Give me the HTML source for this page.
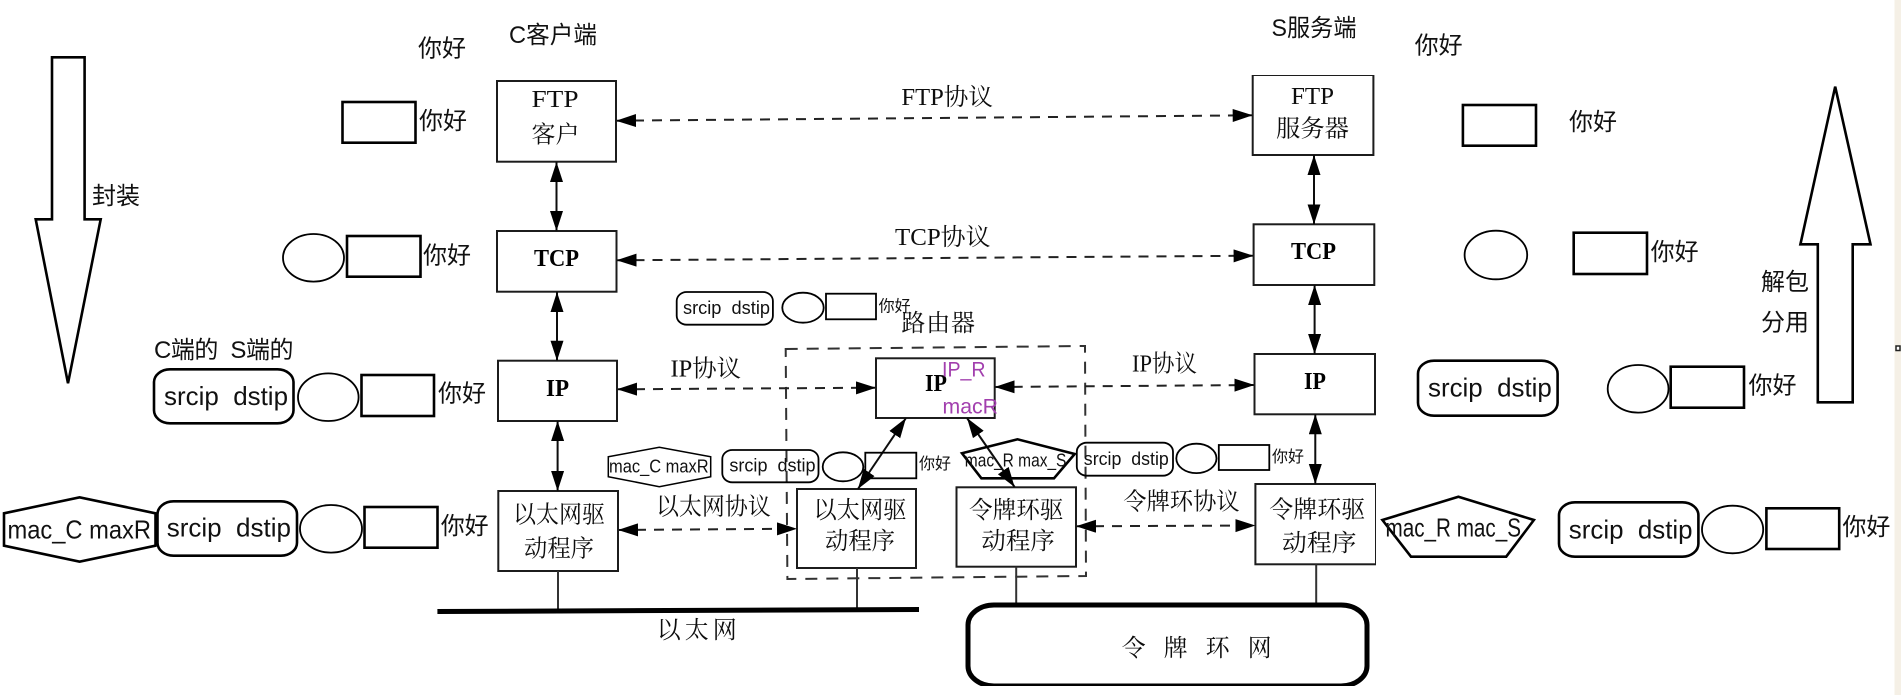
<!DOCTYPE html>
<html lang="zh">
<head>
<meta charset="utf-8">
<title>协议封装与分用</title>
<style>
html,body{margin:0;padding:0;background:#fff;width:1901px;height:695px;overflow:hidden}
svg{display:block}
.s{font-family:"Liberation Serif","Noto Serif CJK SC",serif;fill:#111;font-size:24px}
.b{font-family:"Liberation Serif","Noto Serif CJK SC",serif;fill:#000;font-size:24px;font-weight:700}
.c{font-family:"Liberation Sans","Noto Sans CJK SC",sans-serif;fill:#111;font-size:24px}
.l{font-family:"Liberation Sans","Noto Sans CJK SC",sans-serif;fill:#111;font-size:26px}
.m{font-family:"Liberation Sans","Noto Sans CJK SC",sans-serif;fill:#111;font-size:18px}
.p{font-family:"Liberation Sans",sans-serif;fill:#a23fae;font-size:21px}
.box{fill:none;stroke:#1c1c1c;stroke-width:2}
.dbl{fill:none;stroke:#111;stroke-width:2;marker-start:url(#a);marker-end:url(#a)}
.dash{fill:none;stroke:#222;stroke-width:2;stroke-dasharray:10 8;marker-start:url(#a);marker-end:url(#a)}
.o{fill:none;stroke:#000;stroke-width:2.6}
.t{fill:none;stroke:#000;stroke-width:1.8}
</style>
</head>
<body>
<svg xmlns="http://www.w3.org/2000/svg" width="1901" height="695" viewBox="0 0 1901 695">
<defs>
<marker id="a" markerUnits="userSpaceOnUse" markerWidth="22" markerHeight="14" refX="20" refY="6.5" orient="auto-start-reverse">
<path d="M0 0L20 6.5L0 13Z" fill="#000"/>
</marker>
<filter id="soft" x="0" y="0" width="100%" height="100%"><feGaussianBlur stdDeviation="0.3"/></filter>
</defs>

<rect x="1894.5" y="0" width="6.5" height="695" fill="#f5f0e6"/>
<rect x="1896" y="346" width="4" height="4.5" fill="#fff" stroke="#222" stroke-width="1.5"/>

<g filter="url(#soft)">
<!-- boxes -->
<rect class="box" x="497" y="81" width="119" height="80.7"/>
<rect class="box" x="497" y="231" width="119.5" height="60.7"/>
<rect class="box" x="498" y="360.7" width="119" height="60.3"/>
<rect class="box" x="498.3" y="491" width="119.7" height="80"/>
<rect class="box" x="1252.7" y="75" width="120.7" height="80"/>
<rect class="box" x="1253.6" y="224.3" width="120.7" height="60.7"/>
<rect class="box" x="1254.5" y="354" width="120.5" height="60.3"/>
<rect class="box" x="1255.4" y="484" width="120.6" height="80.3"/>
<rect class="box" x="876" y="358.3" width="118.7" height="59.7"/>
<rect class="box" x="797" y="489" width="119" height="79"/>
<rect class="box" x="956.5" y="487.3" width="119.5" height="79.4"/>
<polygon points="785.7,349 1085,346 1086,576 787.4,579" fill="none" stroke="#333" stroke-width="2" stroke-dasharray="12 9"/>

<!-- vertical links -->
<line class="dbl" x1="556.5" y1="162" x2="556.5" y2="231"/>
<line class="dbl" x1="557" y1="292" x2="557" y2="360.7"/>
<line class="dbl" x1="557.6" y1="421" x2="557.6" y2="491"/>
<line class="dbl" x1="1314" y1="155" x2="1314" y2="224.3"/>
<line class="dbl" x1="1314.6" y1="285" x2="1314.6" y2="354"/>
<line class="dbl" x1="1315.3" y1="414.3" x2="1315.3" y2="484"/>
<line class="dbl" x1="857.9" y1="489" x2="906" y2="418"/>
<line class="dbl" x1="1014.6" y1="487" x2="967" y2="418"/>

<!-- dashed protocol links -->
<line class="dash" x1="616" y1="120.7" x2="1252.7" y2="115.3"/>
<line class="dash" x1="616.5" y1="260.3" x2="1253.6" y2="255.7"/>
<line class="dash" x1="617" y1="389.3" x2="876" y2="387.7"/>
<line class="dash" x1="994.7" y1="387" x2="1254.5" y2="385"/>
<line class="dash" x1="618" y1="530" x2="797" y2="528.7"/>
<line class="dash" x1="1076" y1="526.3" x2="1255.4" y2="525.5"/>

<!-- networks -->
<line x1="558" y1="571" x2="558" y2="610" stroke="#333" stroke-width="2"/>
<line x1="857" y1="568" x2="857" y2="610" stroke="#333" stroke-width="2"/>
<line x1="1016.2" y1="566.7" x2="1016.2" y2="605" stroke="#333" stroke-width="2"/>
<line x1="1316.2" y1="564.3" x2="1316.2" y2="605" stroke="#333" stroke-width="2"/>
<line x1="437.4" y1="611.5" x2="919" y2="609.5" stroke="#000" stroke-width="5"/>
<rect x="968" y="605" width="399" height="81" rx="26" ry="20" fill="none" stroke="#000" stroke-width="5"/>

<!-- scan labels -->
<text class="s" x="531.5" y="107" textLength="47" lengthAdjust="spacingAndGlyphs" font-size="26">FTP</text>
<text class="s" x="531.5" y="142.5">客户</text>
<text class="b" x="534" y="266" textLength="45" lengthAdjust="spacingAndGlyphs">TCP</text>
<text class="b" x="546" y="396" textLength="23" lengthAdjust="spacingAndGlyphs">IP</text>
<text class="s" x="513" y="522.5" textLength="92" lengthAdjust="spacingAndGlyphs">以太网驱</text>
<text class="s" x="524" y="556.5" textLength="70" lengthAdjust="spacingAndGlyphs">动程序</text>

<text class="s" x="1291" y="104" textLength="43" lengthAdjust="spacingAndGlyphs">FTP</text>
<text class="s" x="1276" y="136.5" textLength="73" lengthAdjust="spacingAndGlyphs">服务器</text>
<text class="b" x="1291" y="259" textLength="45" lengthAdjust="spacingAndGlyphs">TCP</text>
<text class="b" x="1304" y="389" textLength="22" lengthAdjust="spacingAndGlyphs">IP</text>
<text class="s" x="1269.3" y="517.5" textLength="96" lengthAdjust="spacingAndGlyphs">令牌环驱</text>
<text class="s" x="1282" y="551" textLength="74.5" lengthAdjust="spacingAndGlyphs">动程序</text>

<text class="b" x="925" y="391" textLength="22" lengthAdjust="spacingAndGlyphs">IP</text>
<text class="s" x="813.5" y="518" textLength="93" lengthAdjust="spacingAndGlyphs">以太网驱</text>
<text class="s" x="825" y="549" textLength="70" lengthAdjust="spacingAndGlyphs">动程序</text>
<text class="s" x="969" y="518" textLength="94.5" lengthAdjust="spacingAndGlyphs">令牌环驱</text>
<text class="s" x="981.4" y="549" textLength="73.4" lengthAdjust="spacingAndGlyphs">动程序</text>

<text class="s" x="901.4" y="105" textLength="91.6" lengthAdjust="spacingAndGlyphs">FTP协议</text>
<text class="s" x="895" y="245" textLength="95.5" lengthAdjust="spacingAndGlyphs">TCP协议</text>
<text class="s" x="670.5" y="376.5" textLength="70.5" lengthAdjust="spacingAndGlyphs">IP协议</text>
<text class="s" x="1132" y="371.5" textLength="65" lengthAdjust="spacingAndGlyphs">IP协议</text>
<text class="s" x="656" y="514.5" textLength="114.8" lengthAdjust="spacingAndGlyphs">以太网协议</text>
<text class="s" x="1123.2" y="509.5" textLength="116.5" lengthAdjust="spacingAndGlyphs">令牌环协议</text>
<text class="s" x="901.4" y="331" textLength="73.6" lengthAdjust="spacing">路由器</text>
<text class="s" x="656.8" y="638" textLength="80" lengthAdjust="spacing">以太网</text>
<text class="s" x="1121.6" y="656" textLength="150" lengthAdjust="spacing">令牌环网</text>
</g>

<!-- left encapsulation arrow -->
<polygon class="o" points="52,57.3 84.6,57.3 84.6,219.3 100.7,219.3 68,383.3 35.7,219.3 52,219.3"/>
<text class="c" x="92" y="204">封装</text>

<!-- right demux arrow -->
<polygon class="o" points="1835.2,86.7 1870.5,244.3 1852.7,244.3 1852.7,402.3 1817.8,402.3 1817.8,244.3 1800.4,244.3"/>
<text class="c" x="1761" y="290">解包</text>
<text class="c" x="1761" y="330.5">分用</text>

<!-- titles -->
<text class="c" x="509" y="43" textLength="88" lengthAdjust="spacingAndGlyphs">C客户端</text>
<text class="c" x="1271.5" y="36" textLength="85" lengthAdjust="spacingAndGlyphs">S服务端</text>
<text class="c" x="154" y="358" textLength="139.5" xml:space="preserve">C端的  S端的</text>

<!-- client column -->
<text class="c" x="418" y="56.5">你好</text>
<rect class="o" x="342.5" y="102" width="73" height="40.7"/>
<text class="c" x="419" y="129">你好</text>
<ellipse class="t" cx="313.5" cy="257.8" rx="30.5" ry="23.8"/>
<rect class="o" x="347" y="236" width="73.5" height="40.7"/>
<text class="c" x="423" y="263.5">你好</text>

<rect class="o" x="154" y="369.3" width="139.5" height="54" rx="16" ry="13"/>
<text class="l" x="164" y="405" textLength="124" lengthAdjust="spacingAndGlyphs">srcip&#160;&#160;dstip</text>
<ellipse class="t" cx="328.3" cy="397.2" rx="30.3" ry="23.8"/>
<rect class="o" x="361.5" y="375" width="72.5" height="41"/>
<text class="c" x="438" y="401.5">你好</text>

<polygon class="o" points="4,513.3 79.6,497.3 155.5,513.3 155.5,545.7 79.6,561.7 4,545.7"/>
<text class="l" x="7.5" y="538.3" textLength="143.5" lengthAdjust="spacingAndGlyphs">mac_C maxR</text>
<rect class="o" x="157.5" y="501.3" width="139.5" height="54.4" rx="16" ry="13"/>
<text class="l" x="166.7" y="536.7" textLength="124.3" lengthAdjust="spacingAndGlyphs">srcip&#160;&#160;dstip</text>
<ellipse class="t" cx="331" cy="528.8" rx="31" ry="23.8"/>
<rect class="o" x="364.5" y="507" width="73" height="40.7"/>
<text class="c" x="440.7" y="534">你好</text>

<!-- middle top packet -->
<rect class="t" x="676.7" y="292" width="96.2" height="32.7" rx="10" ry="9"/>
<text class="m" x="683" y="314" textLength="87" lengthAdjust="spacingAndGlyphs">srcip&#160;&#160;dstip</text>
<ellipse class="t" cx="803" cy="307.7" rx="20.7" ry="15"/>
<rect class="t" x="826" y="293.7" width="50" height="25.6"/>
<text class="c" x="878.6" y="311.5" style="font-size:16px">你好</text>

<!-- IP_R / macR -->
<text class="p" x="942" y="376.7" textLength="43.6" lengthAdjust="spacingAndGlyphs">IP_R</text>
<text class="p" x="942.5" y="413.3" textLength="55.5" lengthAdjust="spacingAndGlyphs">macR</text>

<!-- ethernet packet -->
<polygon points="608.3,456.7 659.3,447.3 710.7,456.7 710.7,476.7 659.3,486.7 608.3,476.7" fill="none" stroke="#000" stroke-width="1.5"/>
<text class="m" x="609" y="472.7" textLength="99.6" lengthAdjust="spacingAndGlyphs">mac_C maxR</text>
<rect class="t" x="722.3" y="450" width="96.2" height="32.3" rx="10" ry="9"/>
<text class="m" x="729.4" y="471.7" textLength="86.2" lengthAdjust="spacingAndGlyphs">srcip&#160;&#160;dstip</text>
<ellipse class="t" cx="843" cy="466.8" rx="20.3" ry="14.5"/>
<rect class="t" x="865.3" y="452.7" width="51" height="25.6"/>
<text class="c" x="919" y="469" style="font-size:16px">你好</text>

<!-- token ring packet -->
<polygon class="o" points="962,453.3 1017.5,439.3 1074.7,454 1054,478.3 981.4,478.3"/>
<text class="m" x="964.8" y="466.7" textLength="101.6" lengthAdjust="spacingAndGlyphs">mac_R max_S</text>
<rect class="t" x="1076.8" y="442.7" width="96.2" height="33" rx="10" ry="9"/>
<text class="m" x="1083.8" y="465" textLength="85" lengthAdjust="spacingAndGlyphs">srcip&#160;&#160;dstip</text>
<ellipse class="t" cx="1196.4" cy="458.4" rx="20.1" ry="14.7"/>
<rect class="t" x="1218.8" y="445" width="50.5" height="25"/>
<text class="c" x="1272" y="462" style="font-size:16px">你好</text>

<!-- server column -->
<text class="c" x="1414.6" y="53.5">你好</text>
<rect class="o" x="1462.9" y="105" width="73.1" height="40.7"/>
<text class="c" x="1569" y="130">你好</text>
<ellipse class="t" cx="1495.9" cy="255" rx="31.3" ry="24.3"/>
<rect class="o" x="1573.7" y="232.7" width="73.3" height="41.3"/>
<text class="c" x="1650.6" y="260">你好</text>

<rect class="o" x="1418" y="360.7" width="139.6" height="55" rx="16" ry="13"/>
<text class="l" x="1428" y="396.7" textLength="123.8" lengthAdjust="spacingAndGlyphs">srcip&#160;&#160;dstip</text>
<ellipse class="t" cx="1638.1" cy="388.8" rx="30.4" ry="23.8"/>
<rect class="o" x="1670.7" y="366.7" width="73.3" height="41"/>
<text class="c" x="1748.5" y="393.5">你好</text>

<polygon class="o" points="1382.4,520 1458.4,496.7 1533.9,520 1506.2,556.7 1411,556.7"/>
<text class="l" x="1385.5" y="536.7" textLength="135.5" lengthAdjust="spacingAndGlyphs">mac_R mac_S</text>
<rect class="o" x="1559" y="502.3" width="139.4" height="54.4" rx="16" ry="13"/>
<text class="l" x="1568.8" y="538.3" textLength="123.8" lengthAdjust="spacingAndGlyphs">srcip&#160;&#160;dstip</text>
<ellipse class="t" cx="1732.6" cy="529.5" rx="30.6" ry="23.8"/>
<rect class="o" x="1766.4" y="508.3" width="72.8" height="40.7"/>
<text class="c" x="1842.4" y="535">你好</text>
</svg>
</body>
</html>
